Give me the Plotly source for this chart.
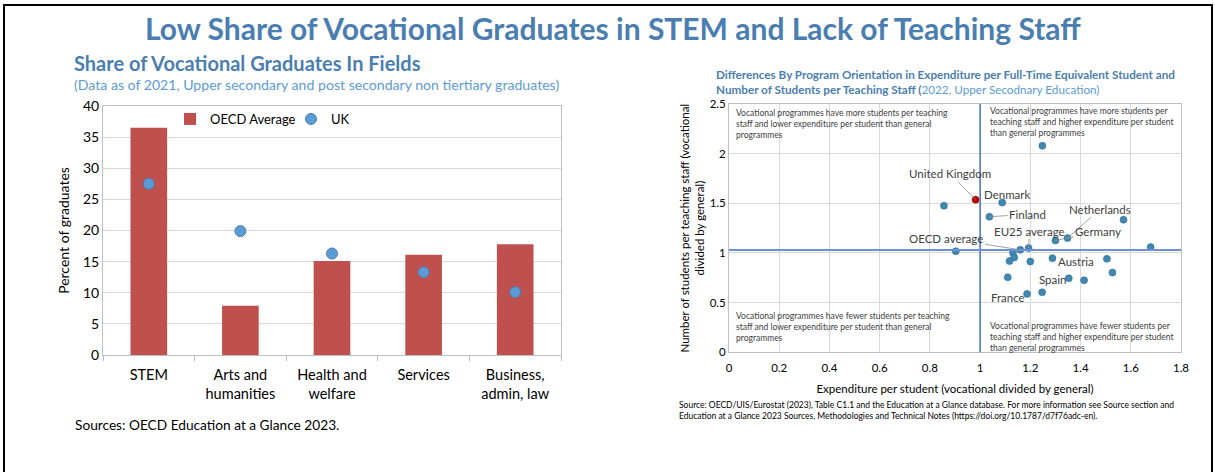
import plotly.graph_objects as go

W, H = 1215, 472

# ---- Left panel: share of vocational graduates by field ----
fields = ["STEM", "Arts and<br>humanities", "Health and<br>welfare", "Services", "Business,<br>admin, law"]
oecd_share = [36.5, 7.9, 15.1, 16.1, 17.8]
uk_share = [27.5, 19.9, 16.3, 13.3, 10.1]

# ---- Right panel: vocational / general ratios ----
expenditure_ratio = [0.982, 0.856, 1.088, 1.037, 0.903, 1.110, 1.348, 1.300, 1.571, 1.679,
                     1.131, 1.160, 1.193, 1.136, 1.117, 1.200, 1.288, 1.505, 1.527, 1.353,
                     1.414, 1.247, 1.187, 1.248]
staff_ratio = [1.537, 1.476, 1.507, 1.365, 1.018, 0.755, 1.150, 1.126, 1.335, 1.059,
               1.002, 1.032, 1.049, 0.955, 0.918, 0.914, 0.948, 0.941, 0.803, 0.746,
               0.726, 0.604, 0.588, 2.080]
country = ["United Kingdom", "", "Denmark", "Finland", "", "", "Netherlands", "Germany", "", "",
           "", "OECD average", "EU25 average", "", "", "", "Austria", "", "", "Spain",
           "", "", "France", ""]
ref_expenditure = 1.0
ref_staff = 1.03

BLUE_T = "#4a7eb0"
BLUE_L = "#5b9bd5"
FONT = "Lato"


def px(x):
    return x / W


def py(y):
    return 1 - y / H


fig = go.Figure()

fig.add_trace(go.Bar(
    x=fields, y=oecd_share, name="OECD Average", marker_color="#c0504d",
    width=0.4, xaxis="x", yaxis="y", legend="legend"))
fig.add_trace(go.Scatter(
    x=fields, y=uk_share, name="UK", mode="markers",
    marker=dict(size=11, color=BLUE_L, line=dict(color="#4a7fb5", width=1)),
    xaxis="x", yaxis="y", legend="legend"))

is_uk = [c == "United Kingdom" for c in country]
fig.add_trace(go.Scatter(
    x=[x for x, u in zip(expenditure_ratio, is_uk) if not u],
    y=[y for y, u in zip(staff_ratio, is_uk) if not u],
    mode="markers", showlegend=False,
    marker=dict(size=7, color="#3f88b2", line=dict(color="#2f6f96", width=0.6)),
    xaxis="x2", yaxis="y2"))
fig.add_trace(go.Scatter(
    x=[x for x, u in zip(expenditure_ratio, is_uk) if u],
    y=[y for y, u in zip(staff_ratio, is_uk) if u],
    mode="markers", showlegend=False,
    marker=dict(size=7, color="#c00000", line=dict(color="#8b0000", width=0.6)),
    xaxis="x2", yaxis="y2"))

annotations = []
shapes = []

# label offsets (text centre) for named points, leader line where drawn
label_pos = {
    "United Kingdom": (0.879, 1.80, True),
    "Denmark": (1.11, 1.585, False),
    "Finland": (1.19, 1.39, True),
    "OECD average": (0.866, 1.146, True),
    "EU25 average": (1.197, 1.221, True),
    "Netherlands": (1.477, 1.439, True),
    "Germany": (1.470, 1.214, True),
    "Austria": (1.381, 0.918, False),
    "Spain": (1.290, 0.732, False),
    "France": (1.112, 0.553, False),
}
for x, y, c in zip(expenditure_ratio, staff_ratio, country):
    if not c:
        continue
    lx, ly, lead = label_pos[c]
    if lead:
        annotations.append(dict(
            x=x, y=y, xref="x2", yref="y2", ax=lx, ay=ly, axref="x2", ayref="y2",
            text=c, showarrow=True, arrowhead=0, arrowwidth=0.8, arrowcolor="#8c8c8c",
            font=dict(family=FONT, size=11.5, color="#404040")))
    else:
        annotations.append(dict(
            x=lx, y=ly, xref="x2", yref="y2", text=c, showarrow=False,
            font=dict(family=FONT, size=11.5, color="#404040")))

quad_font = dict(family=FONT, size=8.5, color="#404040")
quadrants = [
    (0.02, 2.48, "top", "Vocational programmes have more students per teaching<br>staff and lower expenditure per student than general<br>programmes"),
    (1.03, 2.50, "top", "Vocational programmes have more students per<br>teaching staff and higher expenditure per student<br>than general programmes"),
    (0.02, 0.44, "top", "Vocational programmes have fewer students per teaching<br>staff and lower expenditure per student than general<br>programmes"),
    (1.03, 0.34, "top", "Vocational programmes have fewer students per<br>teaching staff and higher expenditure per student<br>than general programmes"),
]
for qx, qy, ya, t in quadrants:
    annotations.append(dict(x=qx, y=qy, xref="x2", yref="y2", xanchor="left", yanchor=ya,
                            align="left", text=t, showarrow=False, font=quad_font))

shapes.append(dict(type="line", xref="x2", yref="y2 domain", x0=ref_expenditure, x1=ref_expenditure,
                   y0=0, y1=1, line=dict(color="#4472c4", width=1.5)))
shapes.append(dict(type="line", xref="x2 domain", yref="y2", x0=0, x1=1, y0=ref_staff, y1=ref_staff,
                   line=dict(color="#6f8fd8", width=2)))

# outer frame
shapes.append(dict(type="rect", xref="paper", yref="paper", x0=px(4), x1=px(1212), y0=py(490), y1=py(5),
                   line=dict(color="black", width=2), layer="above"))

# titles and notes
annotations += [
    dict(x=px(613), y=py(28), xref="paper", yref="paper", yanchor="middle", showarrow=False,
         text="<b>Low Share of Vocational Graduates in STEM and Lack of Teaching Staff</b>",
         font=dict(family=FONT, size=30, color=BLUE_T)),
    dict(x=px(72), y=py(63), xref="paper", yref="paper", xanchor="left", yanchor="middle", showarrow=False,
         text="<b>Share of Vocational Graduates In Fields</b>",
         font=dict(family=FONT, size=20, color=BLUE_T)),
    dict(x=px(72), y=py(85), xref="paper", yref="paper", xanchor="left", yanchor="middle", showarrow=False,
         text="(Data as of 2021, Upper secondary and post secondary non tiertiary graduates)",
         font=dict(family=FONT, size=14.1, color=BLUE_L)),
    dict(x=px(73), y=py(424), xref="paper", yref="paper", xanchor="left", yanchor="middle", showarrow=False,
         text="Sources: OECD Education at a Glance 2023.",
         font=dict(family=FONT, size=13.7, color="#000000")),
    dict(x=px(714), y=py(81), xref="paper", yref="paper", xanchor="left", yanchor="middle",
         align="left", showarrow=False,
         text="<b>Differences By Program Orientation in Expenditure per Full-Time Equivalent Student and</b><br>"
              "<b>Number of Students per Teaching Staff (</b><span style='color:#5b9bd5'>2022, Upper Secodnary Education)</span>",
         font=dict(family=FONT, size=11.7, color=BLUE_T)),
    dict(x=px(677), y=py(410), xref="paper", yref="paper", xanchor="left", yanchor="middle",
         align="left", showarrow=False,
         text="Source: OECD/UIS/Eurostat (2023), Table C1.1 and the Education at a Glance database. For more information see Source section and<br>"
              "Education at a Glance 2023 Sources, Methodologies and Technical Notes (https://doi.org/10.1787/d7f76adc-en).",
         font=dict(family=FONT, size=8.5, color="#000000")),
]

fig.update_layout(
    template="none",
    width=W, height=H, margin=dict(l=0, r=0, t=0, b=0, autoexpand=False),
    paper_bgcolor="white", plot_bgcolor="white",
    font=dict(family=FONT, color="#000000"),
    bargap=0.6,
    xaxis=dict(domain=[px(103), px(561)], anchor="y", type="category", automargin=False,
               showline=True, linecolor="#bfbfbf", mirror=True, linewidth=1,
               ticks="outside", tickson="boundaries", ticklen=5, tickcolor="#bfbfbf",
               ticklabelstandoff=7, tickfont=dict(size=14.5), showgrid=False),
    yaxis=dict(domain=[py(355), py(106)], anchor="x", range=[0, 40], dtick=5, automargin=False,
               showline=True, linecolor="#bfbfbf", mirror=True, gridcolor="#d9d9d9",
               tickfont=dict(size=14), ticks="", zeroline=False,
               title=dict(text="Percent of graduates", font=dict(size=14), standoff=10)),
    xaxis2=dict(domain=[px(729), px(1181)], anchor="y2", range=[0, 1.8], dtick=0.2, automargin=False,
                showline=True, linecolor="#bfbfbf", mirror=True, gridcolor="#d9d9d9",
                zeroline=False, tickfont=dict(size=11.5), ticks="", ticklabelstandoff=5,
                title=dict(text="Expenditure per student (vocational divided by general)",
                           font=dict(size=11.5), standoff=11)),
    yaxis2=dict(domain=[py(352.3), py(104)], anchor="x2", range=[0, 2.5], dtick=0.5, automargin=False,
                showline=True, linecolor="#bfbfbf", mirror=True, gridcolor="#d9d9d9",
                zeroline=False, tickfont=dict(size=11.5), ticks="",
                title=dict(text="Number of students per teaching staff (vocational<br>divided by general)",
                           font=dict(size=11.5), standoff=2)),
    legend=dict(orientation="h", x=px(170), y=py(104), xanchor="left", yanchor="top",
                font=dict(size=13), bgcolor="rgba(0,0,0,0)", entrywidth=76, tracegroupgap=0),
    annotations=annotations, shapes=shapes,
)

fig.write_html("out.html", post_script="document.body.style.margin='0';")
